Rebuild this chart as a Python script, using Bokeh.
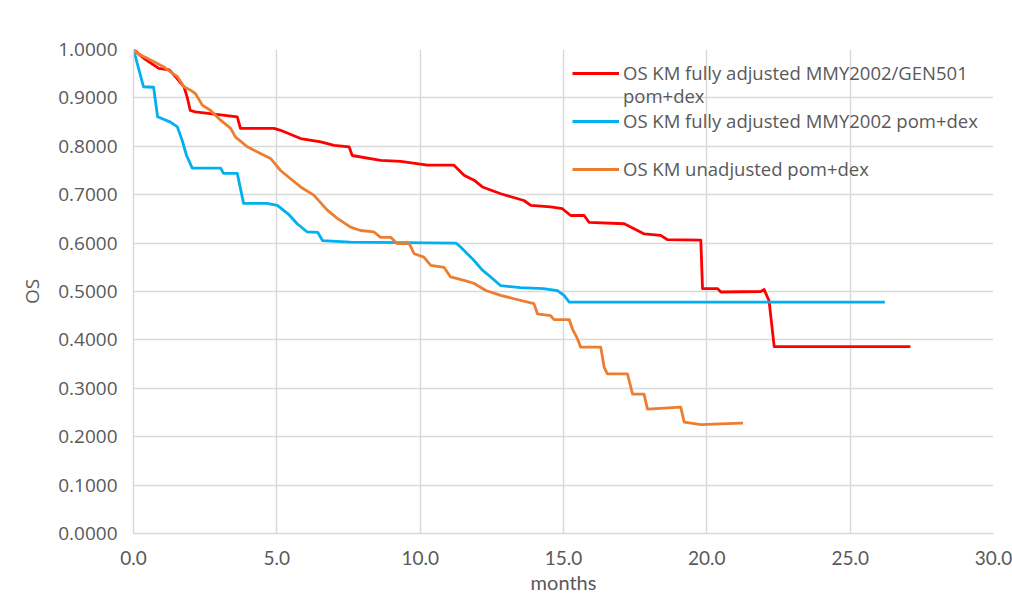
from bokeh.plotting import figure
from bokeh.models import Legend, LegendItem, Range1d, FixedTicker, NumeralTickFormatter, BoxAnnotation
from bokeh.embed import file_html
from bokeh.resources import INLINE

# --- data (months, overall survival) ---
red_label = "OS KM fully adjusted MMY2002/GEN501"
red_label2 = "pom+dex"
red_t = [0.0, 0.40, 0.88, 1.25, 1.52, 1.76, 1.87, 1.98, 2.16, 3.62, 3.73, 4.90, 5.13, 5.83,
         6.53, 7.00, 7.52, 7.63, 8.62, 9.32, 10.25, 11.18, 11.53, 11.88, 12.17, 12.81,
         13.62, 13.86, 14.55, 14.96, 15.25, 15.72, 15.89, 17.12, 17.82, 18.39, 18.63,
         19.79, 19.85, 20.37, 20.49, 21.88, 22.00, 22.17, 22.35, 27.10]
red_os = [1.000, 0.980, 0.961, 0.958, 0.940, 0.923, 0.902, 0.874, 0.871, 0.861, 0.837, 0.837,
          0.833, 0.816, 0.809, 0.802, 0.799, 0.781, 0.771, 0.769, 0.761, 0.761, 0.740, 0.730,
          0.716, 0.702, 0.688, 0.678, 0.675, 0.671, 0.657, 0.657, 0.643, 0.640, 0.619, 0.616,
          0.607, 0.606, 0.506, 0.506, 0.499, 0.500, 0.504, 0.481, 0.386, 0.386]

blue_label = "OS KM fully adjusted MMY2002 pom+dex"
blue_t = [0.0, 0.35, 0.70, 0.84, 1.29, 1.53, 1.70, 1.85, 2.05, 3.04, 3.14, 3.62, 3.84, 4.65,
          5.02, 5.40, 5.71, 6.06, 6.43, 6.60, 7.57, 11.25, 11.41, 11.88, 12.17, 12.46, 12.81,
          13.50, 14.30, 14.79, 15.02, 15.20, 26.21]
blue_os = [1.000, 0.923, 0.922, 0.861, 0.850, 0.840, 0.812, 0.781, 0.755, 0.755, 0.744, 0.744,
           0.682, 0.682, 0.678, 0.660, 0.640, 0.623, 0.622, 0.605, 0.602, 0.600, 0.592, 0.564,
           0.544, 0.530, 0.512, 0.508, 0.506, 0.502, 0.492, 0.478, 0.478]

orange_label = "OS KM unadjusted pom+dex"
orange_t = [0.0, 0.13, 0.48, 0.83, 1.06, 1.29, 1.53, 1.76, 1.99, 2.16, 2.40, 2.69, 3.04, 3.39,
            3.56, 3.97, 4.43, 4.78, 5.13, 5.48, 5.83, 6.29, 6.76, 7.11, 7.57, 7.92, 8.39, 8.62,
            8.97, 9.20, 9.62, 9.79, 10.13, 10.37, 10.83, 11.06, 11.53, 11.87, 12.29, 12.81,
            13.27, 13.97, 14.09, 14.55, 14.67, 15.20, 15.31, 15.49, 15.60, 16.30, 16.42, 16.53,
            17.23, 17.41, 17.81, 17.93, 19.09, 19.21, 19.79, 21.19, 21.26]
orange_os = [1.000, 0.992, 0.982, 0.971, 0.964, 0.954, 0.944, 0.923, 0.916, 0.909, 0.885, 0.874,
             0.854, 0.837, 0.819, 0.799, 0.785, 0.775, 0.750, 0.733, 0.716, 0.699, 0.668, 0.651,
             0.633, 0.626, 0.623, 0.612, 0.612, 0.599, 0.599, 0.578, 0.571, 0.554, 0.550, 0.530,
             0.523, 0.517, 0.502, 0.492, 0.485, 0.475, 0.454, 0.450, 0.442, 0.442, 0.423, 0.402,
             0.385, 0.385, 0.343, 0.330, 0.330, 0.288, 0.288, 0.257, 0.261, 0.230, 0.225, 0.228,
             0.228]

x_ticks = [0, 5, 10, 15, 20, 25, 30]
y_ticks = [0.0, 0.1, 0.2, 0.3, 0.4, 0.5, 0.6, 0.7, 0.8, 0.9, 1.0]

GRID = "#d9d9d9"
TXT = "#595959"

p = figure(width=1012, height=597, output_backend="svg", toolbar_location=None,
           x_range=Range1d(0, 30), y_range=Range1d(0, 1),
           min_border_left=133, min_border_right=19, min_border_top=49, min_border_bottom=64)
p.outline_line_color = None
p.background_fill_color = "white"
p.border_fill_color = "white"

# light chart-area border (decoration only)
try:
    frame_box = BoxAnnotation(left=5, right=1008, top=9, bottom=591,
                              left_units="canvas", right_units="canvas",
                              top_units="canvas", bottom_units="canvas",
                              fill_alpha=0, line_color="#dedede", line_width=1.5,
                              level="overlay", propagate_hover=False)
    p.add_layout(frame_box)
except Exception:
    pass

p.xaxis.ticker = FixedTicker(ticks=x_ticks)
p.yaxis.ticker = FixedTicker(ticks=y_ticks)
p.xaxis.formatter = NumeralTickFormatter(format="0.0")
p.yaxis.formatter = NumeralTickFormatter(format="0.0000")
for ax in (p.xaxis, p.yaxis):
    ax.axis_line_color = GRID
    ax.axis_line_width = 1.5
    ax.major_tick_line_color = None
    ax.minor_tick_line_color = None
    ax.major_tick_in = 0
    ax.major_tick_out = 0
    ax.minor_tick_in = 0
    ax.minor_tick_out = 0
    ax.major_label_text_color = TXT
    ax.axis_label_text_color = TXT
    ax.axis_label_text_font_style = "normal"

p.xaxis.axis_label = "months"
p.yaxis.axis_label = "OS"
p.xaxis.major_label_text_font = "Lato"
p.xaxis.axis_label_text_font = "Lato"
p.xaxis.major_label_text_font_size = "19px"
p.xaxis.axis_label_text_font_size = "20px"
p.xaxis.major_label_standoff = 17
p.xaxis.axis_label_standoff = 2
p.yaxis.major_label_text_font = "Open Sans"
p.yaxis.axis_label_text_font = "Open Sans"
p.yaxis.major_label_text_font_size = "19px"
p.yaxis.axis_label_text_font_size = "19px"
p.yaxis.major_label_standoff = 16
p.yaxis.axis_label_standoff = 10

p.xgrid.ticker = FixedTicker(ticks=x_ticks)
p.ygrid.ticker = FixedTicker(ticks=y_ticks)
p.xgrid.grid_line_color = GRID
p.ygrid.grid_line_color = GRID
p.xgrid.grid_line_width = 1.5
p.ygrid.grid_line_width = 1.5

r_red = p.line(red_t, red_os, line_color="#ff0000", line_width=2.8, line_join="round")
r_blue = p.line(blue_t, blue_os, line_color="#00b0f0", line_width=2.8, line_join="round")
r_orange = p.line(orange_t, orange_os, line_color="#ed7d31", line_width=2.8, line_join="round")
r_blank = p.line([], [], line_alpha=0)

def make_legend(label, renderer, loc):
    return Legend(items=[LegendItem(label=label, renderers=[renderer])],
                  location=loc, margin=0, padding=0, spacing=0,
                  glyph_width=47, glyph_height=20, label_standoff=4, label_height=20,
                  border_line_color=None, background_fill_alpha=0,
                  label_text_color=TXT, label_text_font="Open Sans",
                  label_text_font_size="18.5px")

p.add_layout(make_legend(red_label, r_red, (439, 448)))
p.add_layout(make_legend(red_label2, r_blank, (439, 425)))
p.add_layout(make_legend(blue_label, r_blue, (439, 400)))
p.add_layout(make_legend(orange_label, r_orange, (439, 352)))

open("out.html", "w").write(file_html(p, INLINE))
